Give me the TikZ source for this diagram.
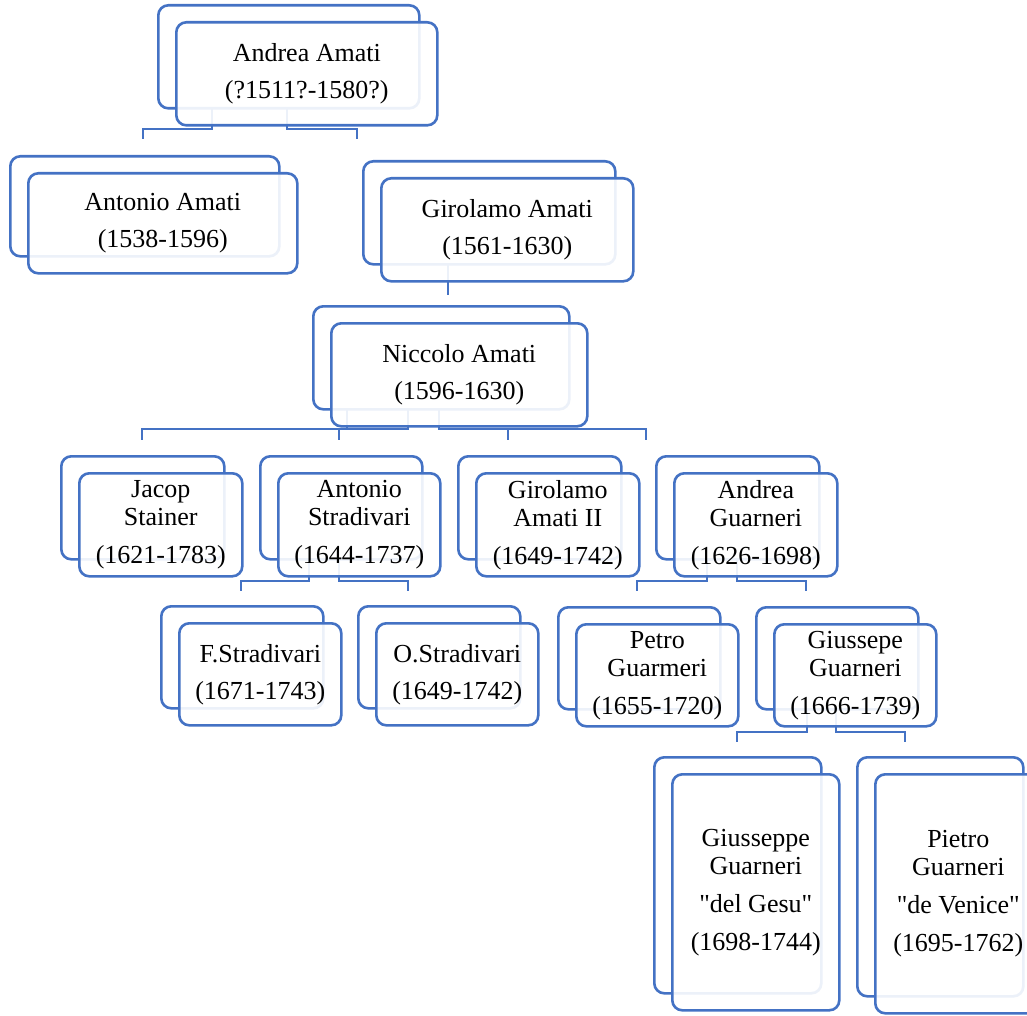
\documentclass[tikz,border=0pt]{standalone}
\usepackage{fontspec}
\newfontfamily\lblfont{Liberation Serif}
\definecolor{boxblue}{RGB}{68,114,196}
\tikzset{
  backbox/.style={draw=boxblue, line width=2.6pt, rounded corners=10pt, fill=white, anchor=north west, inner sep=0pt},
  frontbox/.style={draw=boxblue, line width=2.6pt, rounded corners=10pt, fill=white, fill opacity=0.9, text opacity=1, anchor=north west, align=center, inner sep=0pt,
     font=\lblfont\fontsize{26}{28}\selectfont},
  conn/.style={draw=boxblue, line width=2.3pt}
}
\newcommand\fambox[6]{%
  \node[backbox, minimum width=#4pt, minimum height=#5pt] (#1-b) at (#2,#3) {};
  \node[frontbox, minimum width=#4pt, minimum height=#5pt] (#1) at ([xshift=18pt,yshift=-17pt]#1-b.north west) {#6};}
\begin{document}
\begin{tikzpicture}[x=1pt,y=-1pt]
\useasboundingbox (0,0) rectangle (1027,1016);
\clip (0,0) rectangle (1027,1016);
% free ends of connectors
\coordinate (e-aam) at (143,139);
\coordinate (e-gam) at (357,139);
\coordinate (e-na) at (448,295);
\coordinate (e-js) at (142,440);
\coordinate (e-as) at (339,440);
\coordinate (e-ga2) at (508,440);
\coordinate (e-ag) at (646,440);
\coordinate (e-fs) at (241,591);
\coordinate (e-os) at (408,591);
\coordinate (e-pg) at (637,591);
\coordinate (e-gg) at (806,591);
\coordinate (e-gdg) at (737,742);
\coordinate (e-pdv) at (905,742);
% connectors
\draw[conn] (212,106) -- (212,129) -| (e-aam);
\draw[conn] (287,106) -- (287,129) -| (e-gam);
\draw[conn] (448,263) -- (e-na);
\draw[conn] (347,408) -- (347,429);
\draw[conn] (408,408) -- (408,429) -| (e-js);
\draw[conn] (339,429) -- (e-as);
\draw[conn] (439,408) -- (439,429) -| (e-ag);
\draw[conn] (508,429) -- (e-ga2);
\draw[conn] (309,557) -- (309,581) -| (e-fs);
\draw[conn] (339,557) -- (339,581) -| (e-os);
\draw[conn] (707,557) -- (707,581) -| (e-pg);
\draw[conn] (737,557) -- (737,581) -| (e-gg);
\draw[conn] (807,708) -- (807,732) -| (e-gdg);
\draw[conn] (836,708) -- (836,732) -| (e-pdv);
% families
\fambox{aa}{157}{4}{261}{103}{Andrea Amati\\[9pt](?1511?-1580?)}
\fambox{aam}{9}{155}{269}{100}{Antonio Amati\\[9pt](1538-1596)}
\fambox{gam}{362}{160}{252}{103}{Girolamo Amati\\[9pt](1561-1630)}
\fambox{na}{312}{305}{256}{103}{Niccolo Amati\\[9pt](1596-1630)}
\fambox{js}{60}{455}{163}{103}{Jacop\\Stainer\\[10pt](1621-1783)}
\fambox{as}{259}{455}{162}{103}{Antonio\\Stradivari\\[10pt](1644-1737)}
\fambox{ga2}{457}{455}{163}{103}{Girolamo\\Amati II\\[10pt](1649-1742)}
\fambox{ag}{655}{455}{163}{103}{Andrea\\Guarneri\\[10pt](1626-1698)}
\fambox{fs}{160}{605}{162}{102}{F.Stradivari\\[9pt](1671-1743)}
\fambox{os}{357}{605}{162}{102}{O.Stradivari\\[9pt](1649-1742)}
\fambox{pg}{557}{606}{162}{102}{Petro\\Guarmeri\\[10pt](1655-1720)}
\fambox{gg}{755}{606}{162}{102}{Giussepe\\Guarneri\\[10pt](1666-1739)}
\fambox{gdg}{653}{756}{167}{236}{Giusseppe\\Guarneri\\[10pt]"del Gesu"\\[10pt](1698-1744)}
\fambox{pdv}{856}{756}{166}{239}{Pietro\\Guarneri\\[10pt]"de Venice"\\[10pt](1695-1762)}
\end{tikzpicture}
\end{document}
